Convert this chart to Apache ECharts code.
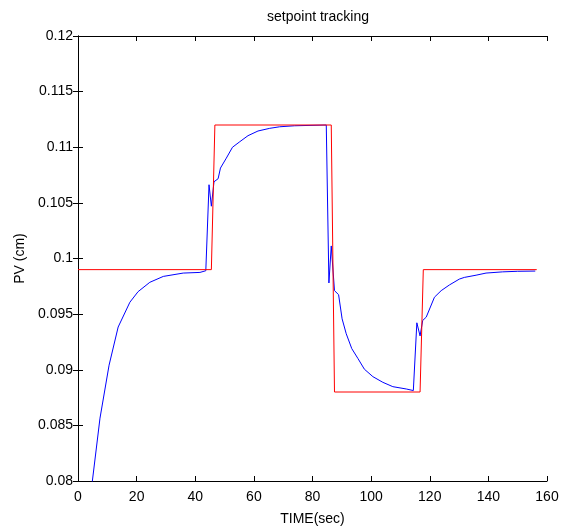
<!DOCTYPE html>
<html>
<head>
<meta charset="utf-8">
<script src="https://cdn.jsdelivr.net/npm/echarts@6/dist/echarts.min.js"></script>
<style>html,body{margin:0;padding:0;background:#fff}#c{width:568px;height:531px}</style>
</head>
<body>
<div id="c"></div>
<script>
var xTicks = [0, 20, 40, 60, 80, 100, 120, 140, 160];
var yTicks = [0.08, 0.085, 0.09, 0.095, 0.1, 0.105, 0.11, 0.115, 0.12];

var setpointT = [0, 45.5, 46.7, 86.4, 87.5, 116.7, 117.8, 156.5];
var setpointV = [0.099, 0.099, 0.112, 0.112, 0.088, 0.088, 0.099, 0.099];

var pvT = [0, 2.5, 4.9, 7.5, 10.6, 13.7, 17.7, 20.5, 24.5, 29.1, 35.9, 41.6, 43.6,
  44.7, 45.5, 46.4, 47.8, 48.6, 50.6, 52.7, 55.2, 58, 61.4, 65.4, 68.8, 73.9, 84.7,
  85.6, 86.4, 87.5, 88.9, 90.1, 91.5, 93.4, 95.5, 97.7, 100.6, 104, 107.4, 112, 114.4,
  115.6, 116.7, 117.6, 118.8, 121.6, 123.9, 126.7, 130.1, 131.8, 135.8, 139.2, 144.9, 150, 156];
var pvV = [0.061, 0.0725, 0.08, 0.08565, 0.09041, 0.09384, 0.09607, 0.09702, 0.09786, 0.09839, 0.09869, 0.09875, 0.0989,
  0.10663, 0.1047, 0.1069, 0.10717, 0.10813, 0.10902, 0.11, 0.1105, 0.11104, 0.11146, 0.1117, 0.11184, 0.11193, 0.1120,
  0.0978, 0.10113, 0.09711, 0.09675, 0.09458, 0.09324, 0.0919, 0.09101, 0.09005, 0.08938, 0.08887, 0.08848, 0.08827, 0.08813,
  0.09422, 0.09304, 0.09443, 0.09473, 0.09652, 0.09711, 0.09762, 0.09815, 0.09830, 0.0985, 0.09869, 0.0988, 0.09885, 0.09887];

function zip(a, b) { return a.map(function (v, i) { return [v, b[i]]; }); }

var font = 'Liberation Sans, Arial, sans-serif';
var chart = echarts.init(document.getElementById('c'), null, {renderer: 'canvas'});
var axLine = {show: true, lineStyle: {color: '#000', width: 1}};
chart.setOption({
  animation: false,
  backgroundColor: '#fff',
  title: {
    text: 'setpoint tracking', left: 313, top: 5, textAlign: 'center',
    textStyle: {fontFamily: font, fontSize: 14, fontWeight: 'normal', color: '#000'}
  },
  grid: {left: 78, right: 21, top: 36, bottom: 48, containLabel: false},
  xAxis: [{
    type: 'value', min: xTicks[0], max: xTicks[xTicks.length - 1], interval: 20,
    position: 'bottom',
    name: 'TIME(sec)', nameLocation: 'middle', nameGap: 31,
    nameTextStyle: {fontFamily: font, fontSize: 14, color: '#000'},
    axisLine: axLine, axisTick: {inside: true, length: 5, lineStyle: {color: '#000'}},
    axisLabel: {fontFamily: font, fontSize: 14, color: '#000', margin: 9},
    splitLine: {show: false}
  }, {
    type: 'value', min: xTicks[0], max: xTicks[xTicks.length - 1], interval: 20,
    position: 'top',
    axisLine: axLine, axisTick: {inside: true, length: 5, lineStyle: {color: '#000'}},
    axisLabel: {show: false}, splitLine: {show: false}
  }],
  yAxis: [{
    type: 'value', min: yTicks[0], max: yTicks[yTicks.length - 1], interval: 0.005,
    position: 'left',
    name: 'PV (cm)', nameLocation: 'middle', nameGap: 45,
    nameTextStyle: {fontFamily: font, fontSize: 14, color: '#000'},
    axisLine: axLine, axisTick: {inside: true, length: 5, lineStyle: {color: '#000'}},
    axisLabel: {fontFamily: font, fontSize: 14, color: '#000', margin: 5,
      formatter: function (v) { return String(+v.toFixed(3)); }},
    splitLine: {show: false}
  }, {
    type: 'value', min: yTicks[0], max: yTicks[yTicks.length - 1], interval: 0.005,
    position: 'right',
    axisLine: axLine, axisTick: {inside: true, length: 5, lineStyle: {color: '#000'}},
    axisLabel: {show: false}, splitLine: {show: false}
  }],
  series: [{
    type: 'line', name: 'PV', data: zip(pvT, pvV), xAxisIndex: 0, yAxisIndex: 0,
    showSymbol: false, symbol: 'none', clip: true,
    lineStyle: {color: '#0000ff', width: 1}
  }, {
    type: 'line', name: 'SP', data: zip(setpointT, setpointV), xAxisIndex: 0, yAxisIndex: 0,
    showSymbol: false, symbol: 'none', clip: true,
    lineStyle: {color: '#ff0000', width: 1}
  }]
});
</script>
</body>
</html>
